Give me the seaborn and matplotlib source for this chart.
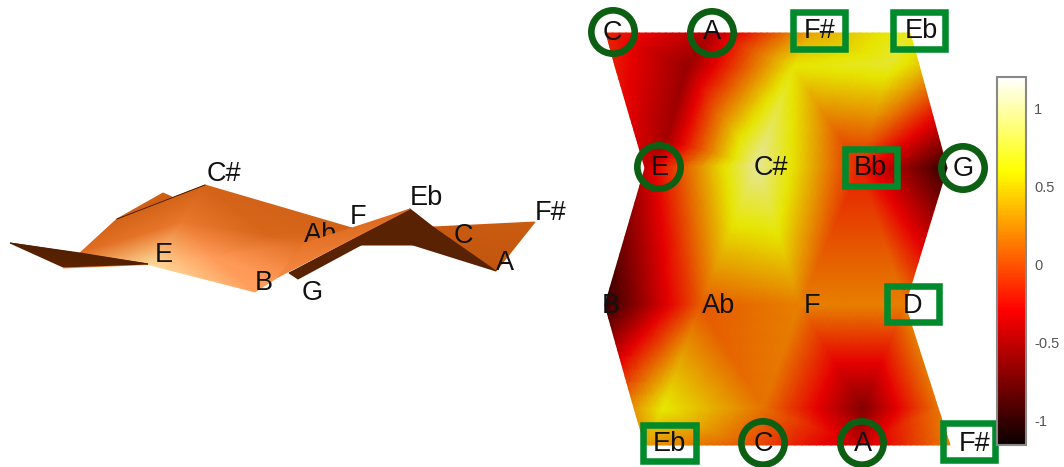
import numpy as np
import matplotlib
matplotlib.use("Agg")
import matplotlib.pyplot as plt
import seaborn as sns
from matplotlib.colors import ListedColormap, Normalize
from matplotlib.patches import Rectangle
from matplotlib.path import Path
from matplotlib.tri import Triangulation, UniformTriRefiner, LinearTriInterpolator
from matplotlib.cm import ScalarMappable

mesh_x = [606, 712, 810, 910,
          615, 687, 793, 890, 919,
          667,
          645, 757, 860, 947,
          605, 700, 800, 905,
          634, 663, 763, 863, 938,
          645, 745, 860, 950]
mesh_y = [33, 33, 33, 33,
          66, 67, 67, 63, 65,
          140,
          168, 165, 168, 168,
          305, 305, 305, 305,
          408, 408, 408, 408, 408,
          445, 445, 445, 445]
mesh_z = [-0.15, -0.5, 0.35, 0.7,
          -0.2, -0.6, 0.6, 0.72, 0.5,
          -0.55,
          -0.42, 1.0, -0.18, -1.0,
          -1.0, 0.05, 0.2, 0.2,
          0.3, 0.62, 0.15, -0.68, 0.15,
          0.3, 0.05, -0.45, 0.2]
outline_x = [606, 645, 605, 645, 950, 905, 947, 910]
outline_y = [33, 168, 305, 445, 445, 305, 168, 33]

# ---- labels
right_notes = ["C", "A", "F#", "Eb", "E", "C#", "Bb", "G", "B", "Ab", "F", "D", "Eb", "C", "A", "F#"]
right_note_x = [612, 712, 820, 921, 660, 771, 870, 963, 611, 719, 812, 913, 669, 763, 863, 975]
right_note_y = [33, 32, 31, 31, 168, 168, 168, 169, 306, 306, 306, 306, 444, 444, 444, 444]
circle_x = [613, 712, 659, 963, 763, 862]
circle_y = [32, 33, 167, 168, 443, 443]
square_x = [819, 919, 871, 913, 669.5, 969]
square_y = [30.5, 30.5, 167.5, 304, 443, 441.5]

left_notes = ["E", "C#", "B", "G", "Ab", "F", "Eb", "C", "A", "F#"]
left_note_x = [164, 224, 264, 312, 321, 358, 426, 463, 505, 551]
left_note_y = [255, 174, 283, 293, 235, 217, 198, 236, 263, 213]

# ---- left 3-D view, as seen on the page: vertices and shade
back_x = [117, 163, 172, 433, 535, 496,
          205, 117, 80, 150, 255, 278, 305, 352, 183, 211, 266,
          10, 80, 148, 63, 63, 148, 100,
          289, 298, 361, 413, 496, 433, 410]
back_y = [219, 193, 197, 227, 222, 271,
          185, 219, 253, 265, 292, 277, 243, 228, 222, 256, 235,
          243, 253, 264, 267, 268, 264.5, 263,
          273, 279, 245, 245, 271, 227, 209]
back_shade = [0.45, 0.45, 0.42, 0.40, 0.42, 0.36,
              0.47, 0.47, 0.55, 1.0, 0.82, 0.78, 0.55, 0.47, 0.62, 0.80, 0.5,
              0.03, 0.03, 0.03, 0.05, 0.7, 0.7, 0.7,
              0.04, 0.04, 0.04, 0.04, 0.04, 0.04, 0.04]
back_faces = [(0, 1, 2), (3, 4, 5),
              (6, 7, 14), (7, 8, 14), (8, 9, 14), (9, 15, 14), (9, 10, 15), (10, 11, 15),
              (11, 12, 15), (12, 16, 15), (12, 13, 16), (13, 6, 16), (6, 14, 16), (14, 15, 16),
              (21, 22, 23), (17, 19, 20), (17, 18, 19),
              (24, 25, 26), (24, 26, 30), (26, 27, 30), (27, 29, 30), (27, 28, 29)]
fold_x = [278, 305, 352, 410]
fold_y = [277, 243, 228, 209]
fold_shade = [0.72, 0.6, 0.55, 0.5]
fold_faces = [(0, 1, 2), (0, 2, 3)]
ridge_x = [117, 205]
ridge_y = [219, 185]

cbar_ticks = [-1, -0.5, 0, 0.5, 1]
cbar_labels = ["-1", "-0.5", "0", "0.5", "1"]
vmin, vmax = -1.16, 1.2

sns.set_theme(style="white")
plt.rcParams["font.family"] = ["Liberation Sans", "DejaVu Sans"]

W, H = 1064, 467
fig = plt.figure(figsize=(W / 100, H / 100), dpi=100, facecolor="white")


def pix_axes(x0, x1):
    ax = fig.add_axes([x0 / W, 0, (x1 - x0) / W, 1])
    ax.set_xlim(x0, x1)
    ax.set_ylim(H, 0)
    ax.axis("off")
    ax.patch.set_alpha(0)
    return ax


# left surface
copper = sns.blend_palette(["#461a00", "#a84408", "#c85a10", "#e87428", "#ff9a58", "#ffdc9c"], as_cmap=True)
ax_l = pix_axes(0, 585)
ax_l.tripcolor(back_x, back_y, back_faces, back_shade, shading="gouraud", cmap=copper, vmin=0, vmax=1, zorder=1)
ax_l.plot(ridge_x, ridge_y, color="#3a1500", lw=0.6, zorder=1.5)
for s, x, y in zip(left_notes, left_note_x, left_note_y):
    ax_l.text(x, y, s, fontsize=19.5, color="#111111", ha="center", va="center", zorder=2)
ax_l.tripcolor(fold_x, fold_y, fold_faces, fold_shade, shading="gouraud", cmap=copper, vmin=0, vmax=1, zorder=3)

# right mesh: colours follow the value scale inside each face, so faces are subdivided for drawing
hot = plt.get_cmap("hot")
lit = hot(np.linspace(0, 1, 256))
lit[:, :3] *= 0.9
lit_cmap = ListedColormap(lit)
ax_r = pix_axes(585, 1000)
xa, ya = np.array(mesh_x, float), np.array(mesh_y, float)
za = np.array(mesh_z, float)
full = Triangulation(xa, ya)
cx, cy = xa[full.triangles].mean(axis=1), ya[full.triangles].mean(axis=1)
inside = Path(np.column_stack([outline_x, outline_y])).contains_points(np.column_stack([cx, cy]))
tri = Triangulation(xa, ya, full.triangles[inside])
fine_tri, fine_z = UniformTriRefiner(tri).refine_field(za, triinterpolator=LinearTriInterpolator(tri, za), subdiv=4)
ax_r.tripcolor(fine_tri, fine_z, shading="gouraud", cmap=lit_cmap, vmin=vmin, vmax=vmax, zorder=1)
ax_r.scatter(circle_x, circle_y, s=973, facecolors="none", edgecolors="#0d5f14", linewidths=4.8, zorder=3, clip_on=False)
for x, y in zip(square_x, square_y):
    ax_r.add_patch(Rectangle((x - 26.2, y - 18.2), 52.4, 36.4, fill=False, ec="#008a2c", lw=4.7, zorder=3, clip_on=False))
for s, x, y in zip(right_notes, right_note_x, right_note_y):
    ax_r.text(x, y, s, fontsize=19.5, color="#111111", ha="center", va="center", zorder=4, clip_on=False)

# colour bar
cax = fig.add_axes([997 / W, 1 - 445 / H, 29 / W, 368 / H])
cb = fig.colorbar(ScalarMappable(Normalize(vmin, vmax), hot), cax=cax)
cb.set_ticks(cbar_ticks)
cb.set_ticklabels(cbar_labels)
cax.tick_params(axis="y", direction="in", length=3, width=0.8, color="#444444", labelcolor="#555555",
                labelsize=10.5, pad=6, right=True, left=False)
cb.outline.set_edgecolor("#888888")
cb.outline.set_linewidth(1.5)

fig.savefig("out.png", dpi=100, facecolor="white")
